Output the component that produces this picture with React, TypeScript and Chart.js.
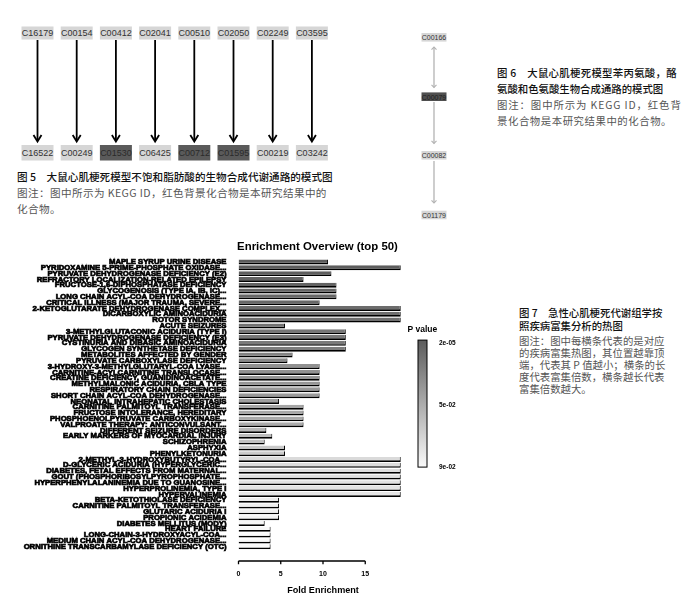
import React, { useEffect, useRef } from 'react';
import { Chart, registerables } from 'chart.js';

Chart.register(...registerables);

// ---------- Data ----------
const diseases = [
  'MAPLE SYRUP URINE DISEASE',
  'PYRIDOXAMINE 5-PRIME-PHOSPHATE OXIDASE...',
  'PYRUVATE DEHYDROGENASE DEFICIENCY (E2)',
  'REFRACTORY LOCALIZATION-RELATED EPILEPSY',
  'FRUCTOSE-1,6-DIPHOSPHATASE DEFICIENCY',
  'GLYCOGENOSIS (TYPE IA, IB, IC)...',
  'LONG CHAIN ACYL-COA DEHYDROGENASE...',
  'CRITICAL ILLNESS (MAJOR TRAUMA, SEVERE...',
  '2-KETOGLUTARATE DEHYDROGENASE COMPLEX...',
  'DICARBOXYLIC AMINOACIDURIA',
  'ROTOR SYNDROME',
  'ACUTE SEIZURES',
  '3-METHYLGLUTACONIC ACIDURIA (TYPE I)',
  'PYRUVATE DEHYDROGENASE DEFICIENCY (E3)',
  'CYSTINURIA AND DIBASIC AMINOACIDURIA',
  'GLYCOGEN SYNTHETASE DEFICIENCY',
  'METABOLITES AFFECTED BY GENDER',
  'PYRUVATE CARBOXYLASE DEFICIENCY',
  '3-HYDROXY-3-METHYLGLUTARYL-COA LYASE...',
  'CARNITINE-ACYLCARNITINE TRANSLOCASE...',
  'CREATINE DEFICIENCY, GUANIDINOACETATE...',
  'METHYLMALONIC ACIDURIA, CBLA TYPE',
  'RESPIRATORY CHAIN DEFICIENCIES',
  'SHORT CHAIN ACYL-COA DEHYDROGENASE...',
  'NEONATAL INTRAHEPATIC CHOLESTASIS',
  'CARNITINE PALMITOYL TRANSFERASE...',
  'FRUCTOSE INTOLERANCE, HEREDITARY',
  'PHOSPHOENOLPYRUVATE CARBOXYKINASE...',
  'VALPROATE THERAPY: ANTICONVULSANT...',
  'DIFFERENT SEIZURE DISORDERS',
  'EARLY MARKERS OF MYOCARDIAL INJURY',
  'SCHIZOPHRENIA',
  'ASPHYXIA',
  'PHENYLKETONURIA',
  '2-METHYL-3-HYDROXYBUTYRYL-COA...',
  'D-GLYCERIC ACIDURIA (HYPERGLYCERIC...',
  'DIABETES, FETAL EFFECTS FROM MATERNAL...',
  'GOUT (PHOSPHORIBOSYLPYROPHOSPHATE...',
  'HYPERPHENYLALANINEMIA DUE TO GUANOSINE...',
  'HYPERPROLINEMIA, TYPE I',
  'HYPERVALINEMIA',
  'BETA-KETOTHIOLASE DEFICIENCY',
  'CARNITINE PALMITOYL TRANSFERASE...',
  'GLUTARIC ACIDURIA I',
  'PROPIONIC ACIDEMIA',
  'DIABETES MELLITUS (MODY)',
  'HEART FAILURE',
  'LONG-CHAIN-3-HYDROXYACYL-COA...',
  'MEDIUM CHAIN ACYL-COA DEHYDROGENASE...',
  'ORNITHINE TRANSCARBAMYLASE DEFICIENCY (OTC)',
];

const foldEnrichment = [
  10.6, 19.2, 11.0, 7.7, 11.6, 11.6, 11.6, 9.6, 19.2, 19.2,
  19.2, 5.5, 12.7, 12.7, 12.7, 12.7, 6.4, 5.8, 9.6, 9.6,
  9.6, 9.6, 9.6, 9.6, 4.8, 7.7, 7.7, 7.7, 7.7, 3.3,
  4.0, 3.1, 5.5, 5.5, 19.2, 19.2, 19.2, 19.2, 19.2, 19.2,
  19.2, 4.8, 4.8, 4.8, 4.8, 3.1, 3.8, 3.8, 3.8, 3.8,
];

const pValues = [
  0.00002, 0.0005, 0.002, 0.003, 0.004, 0.005, 0.006, 0.007, 0.009, 0.010,
  0.011, 0.013, 0.015, 0.016, 0.017, 0.018, 0.022, 0.025, 0.030, 0.031,
  0.032, 0.033, 0.034, 0.035, 0.038, 0.042, 0.043, 0.044, 0.045, 0.052,
  0.055, 0.058, 0.062, 0.063, 0.072, 0.073, 0.074, 0.075, 0.076, 0.077,
  0.078, 0.082, 0.083, 0.084, 0.085, 0.088, 0.089, 0.090, 0.090, 0.090,
];

const xTickValues = [0, 5, 10, 15];
const legendTickLabels = ['2e-05', '5e-02', '9e-02'];
const P_MIN = 0.00002;
const P_MAX = 0.09;

const fig5Sources = ['C16179', 'C00154', 'C00412', 'C02041', 'C00510', 'C02050', 'C02249', 'C03595'];
const fig5Products = ['C16522', 'C00249', 'C01530', 'C06425', 'C00712', 'C01595', 'C00219', 'C03242'];
const fig5Highlighted = ['C01530', 'C00712', 'C01595'];
const fig6Chain = ['C00166', 'C00079', 'C00082', 'C01179'];
const fig6Highlighted = ['C00079'];

const fig5Caption = [
  '图 5　大鼠心肌梗死模型不饱和脂肪酸的生物合成代谢通路的模式图',
  '图注：图中所示为 KEGG ID，红色背景化合物是本研究结果中的',
  '化合物。',
];
const fig6Caption = [
  '图 6　大鼠心肌梗死模型苯丙氨酸，酪',
  '氨酸和色氨酸生物合成通路的模式图',
  '图注：图中所示为 KEGG ID，红色背',
  '景化合物是本研究结果中的化合物。',
];
const fig7Caption = [
  '图 7　急性心肌梗死代谢组学按',
  '照疾病富集分析的热图',
  '图注：图中每横条代表的是对应',
  '的疾病富集热图，其位置越靠顶',
  '端，代表其 P 值越小；横条的长',
  '度代表富集倍数，横条越长代表',
  '富集倍数越大。',
];

// ---------- helpers ----------
const DARK = 92;
const LIGHT = 250;
function pColor(p: number) {
  const t = Math.min(1, Math.max(0, (p - P_MIN) / (P_MAX - P_MIN)));
  const g = Math.round(DARK + t * (LIGHT - DARK));
  return `rgb(${g},${g},${g})`;
}

const FONT = 'Liberation Sans, Arial, sans-serif';
const CJK = '"Noto Sans CJK SC", sans-serif';

const decorPlugin = {
  id: 'decor',
  afterDraw(chart: any) {
    const { ctx, chartArea } = chart;
    const xs = chart.scales.x;
    ctx.save();
    // title
    ctx.fillStyle = '#000';
    ctx.font = `bold 11.4px ${FONT}`;
    ctx.textAlign = 'center';
    ctx.textBaseline = 'middle';
    ctx.fillText('Enrichment Overview (top 50)', chart.width / 2, chartArea.top - 12);

    // x axis line with ticks (R style, offset below plot)
    const y0 = chartArea.bottom + 11.4;
    ctx.strokeStyle = '#000';
    ctx.lineWidth = 1.3;
    ctx.beginPath();
    ctx.moveTo(xs.getPixelForValue(xTickValues[0]), y0);
    ctx.lineTo(xs.getPixelForValue(xTickValues[xTickValues.length - 1]), y0);
    xTickValues.forEach((v) => {
      const px = xs.getPixelForValue(v);
      ctx.moveTo(px, y0);
      ctx.lineTo(px, y0 + 3.3);
    });
    ctx.stroke();

    // P value colour legend
    const lx = chartArea.right + 10.5;
    const lw = 9;
    const top = chartArea.top + 81;
    const h = 127;
    ctx.font = `bold 8.5px ${FONT}`;
    ctx.textAlign = 'left';
    ctx.fillText('P value', chartArea.right, top - 10);
    const grad = ctx.createLinearGradient(0, top, 0, top + h);
    grad.addColorStop(0, pColor(P_MIN));
    grad.addColorStop(1, pColor(P_MAX));
    ctx.fillStyle = grad;
    ctx.fillRect(lx, top, lw, h);
    ctx.lineWidth = 1;
    ctx.strokeRect(lx, top, lw, h);
    ctx.fillStyle = '#000';
    ctx.font = `bold 6.5px ${FONT}`;
    legendTickLabels.forEach((t, i) => {
      const yy = top + 2.7 + (i / (legendTickLabels.length - 1)) * (h - 2.7);
      ctx.fillText(t, lx + 21, yy);
    });
    ctx.restore();
  },
};

function EnrichmentChart() {
  const ref = useRef<HTMLCanvasElement | null>(null);
  useEffect(() => {
    if (!ref.current) return;
    Chart.defaults.font.family = FONT;
    const chart = new Chart(ref.current, {
      type: 'bar',
      data: {
        labels: diseases,
        datasets: [
          {
            data: foldEnrichment,
            backgroundColor: pValues.map(pColor),
            borderColor: '#000',
            borderWidth: { top: 0, left: 0, right: 1, bottom: 1.7 } as any,
            borderSkipped: false,
            barPercentage: 0.86,
            categoryPercentage: 1,
          },
        ],
      },
      options: {
        indexAxis: 'y',
        responsive: false,
        animation: false,
        devicePixelRatio: 1,
        layout: { padding: { left: 0, right: 227.5, top: 23.1, bottom: 8.2 } },
        plugins: {
          legend: { display: false },
          tooltip: { enabled: false },
          title: { display: false },
        },
        scales: {
          x: {
            type: 'linear',
            min: 0,
            max: 20,
            afterBuildTicks: (s: any) => {
              s.ticks = xTickValues.map((v) => ({ value: v }));
            },
            afterFit: (s: any) => {
              s.height = 46.2;
            },
            grid: { display: false, drawTicks: false },
            border: { display: false },
            ticks: { padding: 20.2, color: '#000', font: { size: 7, weight: 'bold', family: FONT } },
            title: {
              display: true,
              text: 'Fold Enrichment',
              color: '#000',
              font: { size: 9.1, weight: 'bold', family: FONT },
              padding: { top: 7, bottom: 0 },
            },
          },
          y: {
            afterFit: (s: any) => {
              s.width = 238.5;
            },
            grid: { display: false, drawTicks: false },
            border: { display: false },
            ticks: {
              autoSkip: false,
              padding: 12,
              color: '#000',
              font: { size: 7.7, weight: 'bold', family: FONT },
              textStrokeColor: '#000',
              textStrokeWidth: 0.7,
            } as any,
          },
        },
      } as any,
      plugins: [decorPlugin],
    });
    return () => chart.destroy();
  }, []);
  return (
    <div style={{ position: 'absolute', left: 0, top: 236, width: 635, height: 368 }}>
      <canvas ref={ref} width={635} height={368} style={{ width: 635, height: 368, display: 'block' }} />
    </div>
  );
}

function Fig5() {
  const cx0 = 37.5;
  const dx = 39.2;
  return (
    <g>
      {fig5Sources.map((id, i) => {
        const cx = cx0 + i * dx;
        return (
          <g key={'s' + id}>
            <rect x={cx - 16} y={26.5} width={32} height={13} fill="#d6d6d6" />
            <text x={cx} y={33.2} fontSize={9} fill="#333" textAnchor="middle" dominantBaseline="central" fontFamily={FONT}>
              {id}
            </text>
            <line x1={cx} y1={40} x2={cx} y2={141} stroke="#000" strokeWidth={1.8} />
            <polyline points={`${cx - 4},${135} ${cx},${141.5} ${cx + 4},${135}`} fill="none" stroke="#000" strokeWidth={1.8} />
          </g>
        );
      })}
      {fig5Products.map((id, i) => {
        const cx = cx0 + i * dx;
        const hi = fig5Highlighted.includes(id);
        return (
          <g key={'p' + id}>
            <rect x={cx - 16} y={145} width={32} height={15.5} fill={hi ? '#5a5a5a' : '#d6d6d6'} />
            <text x={cx} y={152.8} fontSize={9} fill={hi ? '#2a2a2a' : '#333'} textAnchor="middle" dominantBaseline="central" fontFamily={FONT}>
              {id}
            </text>
          </g>
        );
      })}
    </g>
  );
}

function Fig6() {
  const cx = 434;
  const ys = [37.3, 96.7, 155.3, 215];
  const grey = '#b3b3b3';
  const head = (y: number, up: boolean) => {
    const d = up ? 2.6 : -2.6;
    return <polyline points={`${cx - 2.5},${y + d} ${cx},${y} ${cx + 2.5},${y + d}`} fill="none" stroke={grey} strokeWidth={1.1} />;
  };
  return (
    <g>
      <line x1={cx} y1={47} x2={cx} y2={87.5} stroke={grey} strokeWidth={1.3} />
      {head(47, true)}
      {head(87.5, false)}
      <line x1={cx} y1={102} x2={cx} y2={143.5} stroke={grey} strokeWidth={1.3} />
      {head(143.5, false)}
      <line x1={cx} y1={161} x2={cx} y2={203} stroke={grey} strokeWidth={1.3} />
      {head(203, false)}
      {fig6Chain.map((id, i) => {
        const hi = fig6Highlighted.includes(id);
        return (
          <g key={id}>
            <rect x={cx - 12.5} y={ys[i] - 4.3} width={25} height={8.6} fill={hi ? '#4f4f4f' : '#d6d6d6'} />
            <text x={cx} y={ys[i] + 0.3} fontSize={7} fill={hi ? '#1e1e1e' : '#333'} textAnchor="middle" dominantBaseline="central" fontFamily={FONT}>
              {id}
            </text>
          </g>
        );
      })}
    </g>
  );
}

function Caption({ lines, left, ys, size, titleLines, spacing }: { lines: string[]; left: number; ys: number[]; size: number; titleLines: number; spacing?: number[] }) {
  return (
    <>
      {lines.map((t, i) => (
        <div
          key={i}
          style={{
            position: 'absolute',
            left,
            top: ys[i] - 8,
            height: 16,
            lineHeight: '16px',
            fontSize: size,
            fontFamily: CJK,
            fontWeight: i < titleLines ? 500 : 400,
            color: i < titleLines ? '#111' : '#555',
            whiteSpace: 'nowrap',
            letterSpacing: spacing ? spacing[i] : 0,
          }}
        >
          {t}
        </div>
      ))}
    </>
  );
}

export default function App() {
  return (
    <div style={{ position: 'absolute', left: 0, top: 0, width: 697, height: 604, background: '#fff', overflow: 'hidden' }}>
      <svg width={697} height={236} style={{ position: 'absolute', left: 0, top: 0 }}>
        <Fig5 />
        <Fig6 />
      </svg>
      <Caption lines={fig5Caption} left={17} ys={[176.7, 192.7, 209.3]} size={10.6} titleLines={1} spacing={[0, 0.4, 0.4]} />
      <Caption lines={fig6Caption} left={497} ys={[72.7, 89.3, 105.3, 121.3]} size={10.4} titleLines={2} spacing={[0.3, 0, 0.9, 0.55]} />
      <Caption
        lines={fig7Caption}
        left={519}
        ys={[313.3, 326, 340.7, 352.7, 365, 377.3, 389.3]}
        size={10.4}
        titleLines={2}
      />
      <EnrichmentChart />
    </div>
  );
}
